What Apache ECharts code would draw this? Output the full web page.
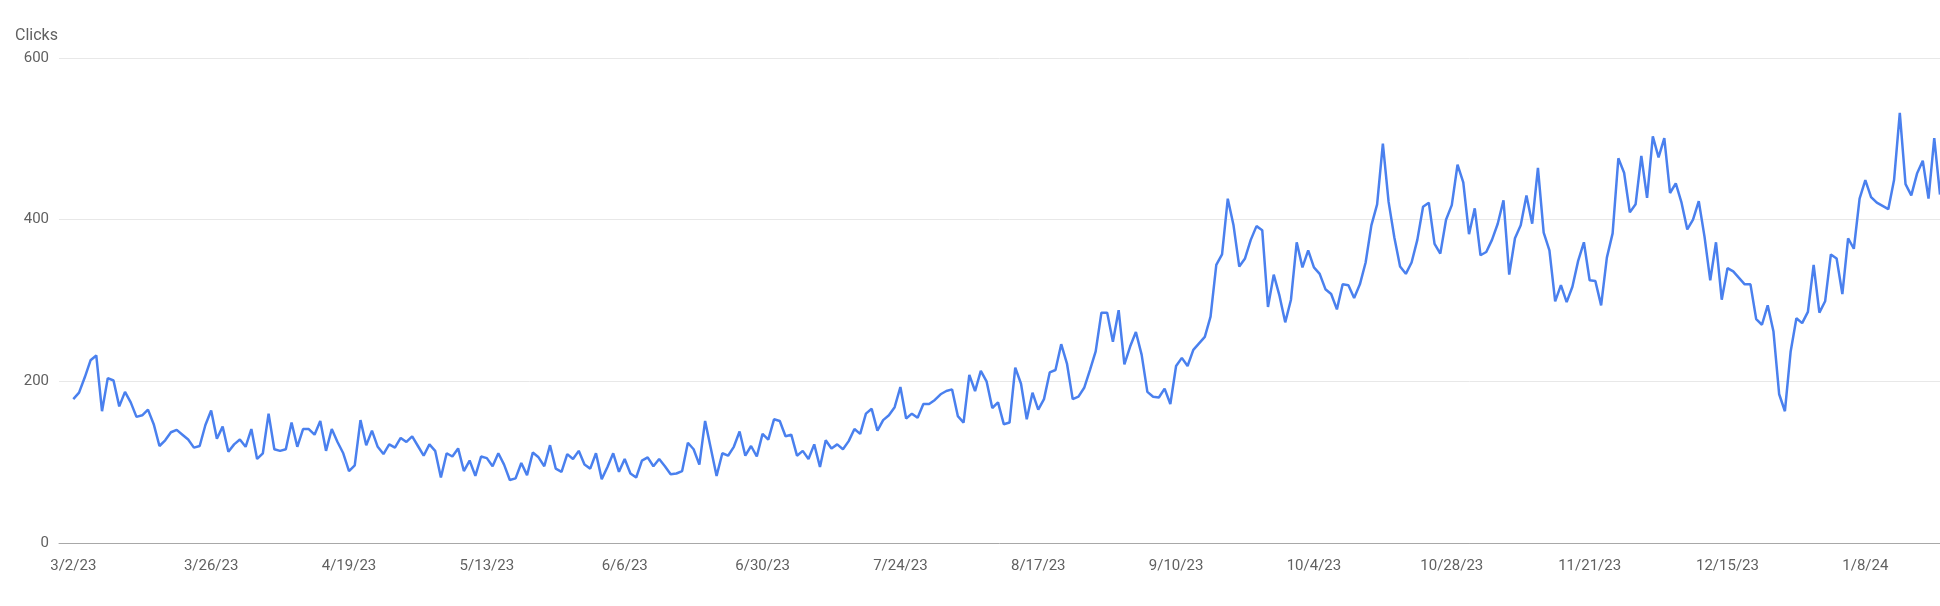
<!DOCTYPE html>
<html>
<head>
<meta charset="utf-8">
<script src="https://cdn.jsdelivr.net/npm/echarts@6/dist/echarts.min.js"></script>
<style>
  html, body { margin: 0; padding: 0; background: #fff; }
  #chart { width: 1940px; height: 606px; }
</style>
</head>
<body>
<div id="chart"></div>
<script>
// Daily clicks, starting 3/2/23
const startDate = [2023, 3, 2];
const clicks = [
  178,186,205,226,232,163,204,201,169,187,174,156,158,165,147,120,127,137,140,134,
  128,118,120,146,164,129,144,113,122,128,119,141,104,111,160,116,114,
  116,149,119,141,141,134,151,114,141,125,111,89,96,152,121,139,119,110,122,118,
  130,125,132,120,108,122,114,81,111,107,117,89,102,83,
  107,105,95,111,97,78,80,99,84,112,106,95,121,92,88,110,104,114,97,92,
  111,79,94,111,88,104,86,81,102,106,95,104,95,85,86,89,124,
  116,97,151,117,83,111,108,119,138,108,120,107,135,128,153,151,132,134,108,114,
  104,122,94,127,117,122,116,126,141,135,160,166,139,152,158,168,193,
  154,160,155,172,172,177,184,188,190,157,149,208,188,213,200,167,174,147,149,217,
  197,153,186,165,178,211,214,246,222,178,181,192,214,237,285,285,
  249,288,221,243,261,233,187,181,180,191,172,219,229,219,239,247,255,280,344,357,
  426,393,342,352,375,392,387,292,332,306,273,301,372,341,362,341,
  333,314,308,289,320,319,303,320,347,393,419,494,422,378,342,333,347,375,416,421,
  370,358,400,418,468,446,382,414,356,360,375,395,424,332,377,393,430,
  395,464,384,362,299,319,298,317,349,372,325,324,294,353,383,476,458,409,419,479,
  427,503,477,501,433,445,421,388,400,423,379,325,372,301,340,336,
  328,320,320,277,270,294,262,184,163,237,278,272,286,344,285,299,357,352,308,377,
  364,426,449,428,421,417,413,449,532,444,430,457,473,426,501,431
];
const tickLabels = ['3/2/23','3/26/23','4/19/23','5/13/23','6/6/23','6/30/23','7/24/23',
  '8/17/23','9/10/23','10/4/23','10/28/23','11/21/23','12/15/23','1/8/24'];
const yTicks = [0, 200, 400, 600];
const seriesName = 'Clicks';

function fmt(d) {
  return (d.getMonth() + 1) + '/' + d.getDate() + '/' + String(d.getFullYear()).slice(2);
}
const dates = clicks.map((_, i) => fmt(new Date(startDate[0], startDate[1] - 1, startDate[2] + i)));
const tickPos = tickLabels.map(l => dates.indexOf(l));
const points = clicks.map((v, i) => [i, v]);

const chart = echarts.init(document.getElementById('chart'));
chart.setOption({
  animation: false,
  textStyle: { fontFamily: 'Roboto' },
  title: {
    text: seriesName, left: 10, top: 23,
    textStyle: { fontFamily: 'Roboto', fontSize: 16, fontWeight: 'normal', color: '#616161' }
  },
  grid: { left: 59, right: 0, top: 58, bottom: 63, containLabel: false },
  xAxis: {
    type: 'value',
    min: -2.49,
    max: clicks.length - 1,
    axisLine: { show: true, lineStyle: { color: '#a8a8a8', width: 1 } },
    axisTick: { show: false },
    splitLine: { show: false },
    axisLabel: {
      customValues: tickPos,
      formatter: v => dates[Math.round(v)] || '',
      color: '#616161', fontSize: 15, margin: 16, fontFamily: 'Roboto'
    }
  },
  yAxis: {
    type: 'value',
    min: yTicks[0], max: yTicks[yTicks.length - 1], interval: 200,
    axisLine: { show: false },
    axisTick: { show: false },
    splitLine: { lineStyle: { color: '#e8e8e8', width: 1 } },
    axisLabel: { color: '#616161', fontSize: 15, margin: 10, fontFamily: 'Roboto' }
  },
  series: [{
    name: seriesName,
    type: 'line',
    data: points,
    showSymbol: false,
    lineStyle: { color: '#4a80ee', width: 2.5 },
    itemStyle: { color: '#4a80ee' }
  }]
});
</script>
</body>
</html>
